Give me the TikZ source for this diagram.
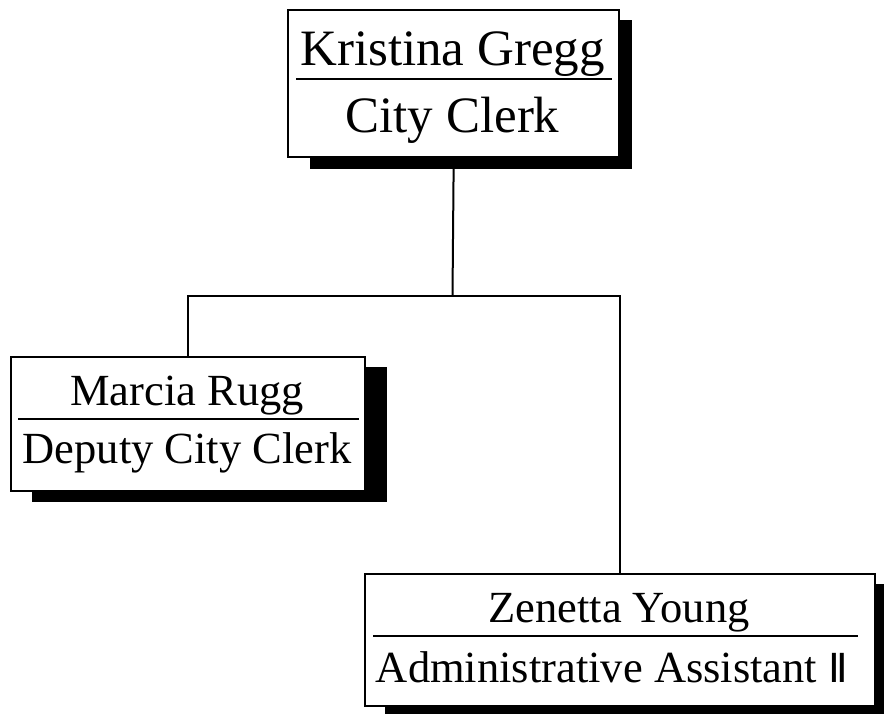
\documentclass[tikz,border=0pt]{standalone}
\usepackage{fontspec}
\setmainfont{Liberation Serif}
\newfontfamily\numeralfont{DejaVu Sans}
\usetikzlibrary{calc,backgrounds}
\begin{document}
\begin{tikzpicture}[x=1pt,y=-1pt,
  card/.style={draw=black, line width=2.4pt, fill=white, inner sep=0pt, anchor=north west},
  drop/.style={fill=black},
  rule/.style={line width=1.2pt},
  link/.style={line width=2pt},
  label/.style={anchor=base, inner sep=0pt},
  big/.style={font=\fontsize{51pt}{51pt}\selectfont},
  mid/.style={font=\fontsize{44.5pt}{44.5pt}\selectfont}]
\useasboundingbox (0,0) rectangle (884,713);

% City Clerk
\node[card, minimum width=331pt, minimum height=147pt] (clerk) at (287,9) {};
\node[label, big] (clerkname) at (452.5,65) {Kristina Gregg};
\node[label, big] (clerktitle) at (452.5,132) {City Clerk};
\draw[rule] ($(clerk.north west)+(9,70)$) -- ($(clerk.north east)+(-8,70)$);

% Deputy City Clerk
\node[card, minimum width=354pt, minimum height=134pt] (deputy) at (10,356) {};
\node[label, mid] (deputyname) at (187,405) {Marcia Rugg};
\node[label, mid] (deputytitle) at (187,463) {Deputy City Clerk};
\draw[rule] ($(deputy.north west)+(8,63)$) -- ($(deputy.north east)+(-7,63)$);

% Administrative Assistant
\node[card, minimum width=510pt, minimum height=132pt] (assistant) at (364,573) {};
\node[label, mid] (assistantname) at (619,622) {Zenetta Young};
\node[label, mid] (assistanttitle) at (612,682) {Administrative Assistant {\numeralfont\fontsize{40pt}{40pt}\selectfont Ⅱ}};
\draw[rule] ($(assistant.north west)+(9,63)$) -- ($(assistant.north east)+(-18,63)$);

% drop shadows behind the cards
\begin{scope}[on background layer]
  \fill[drop] ($(clerk.north west)+(23,11)$) rectangle ($(clerk.south east)+(12,11)$);
  \fill[drop] ($(deputy.north west)+(22,11)$) rectangle ($(deputy.south east)+(21,10)$);
  \fill[drop] ($(assistant.north west)+(21,11)$) rectangle ($(assistant.south east)+(21,10)$);
\end{scope}

% reporting lines
\coordinate (bus) at (452.5,296);
\draw[link] (clerk.south) -- (bus);
\draw[link] (deputy.north) |- (bus) -| (assistant.north);
\end{tikzpicture}
\end{document}
